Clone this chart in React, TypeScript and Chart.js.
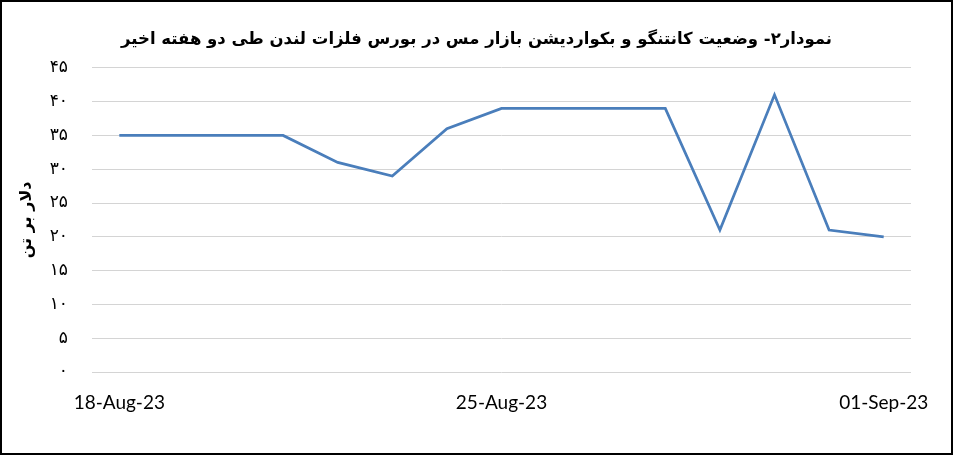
import React, { useEffect, useRef } from "react";
import { Chart, registerables } from "chart.js";

Chart.register(...registerables);

const categories: string[] = [
  "18-Aug-23", "19-Aug-23", "20-Aug-23", "21-Aug-23", "22-Aug-23",
  "23-Aug-23", "24-Aug-23", "25-Aug-23", "26-Aug-23", "27-Aug-23",
  "28-Aug-23", "29-Aug-23", "30-Aug-23", "31-Aug-23", "01-Sep-23",
];
// null = no trading day (weekend); line spans the gap
const spreadValues: (number | null)[] = [
  35, null, null, 35, 31, 29, 36, 39, null, null, 39, 21, 41, 21, 20,
];
const shownTickIndexes: number[] = [0, 7, 14];
const titleText = "نمودار۲- وضعیت کانتنگو و بکواردیشن بازار مس در بورس فلزات لندن طی دو هفته اخیر";
const yAxisTitle = "دلار بر تن";
const persianDigits = ["۰", "۱", "۲", "۳", "۴", "۵", "۶", "۷", "۸", "۹"];

const toPersian = (n: number) =>
  String(n).replace(/[0-9]/g, (d) => persianDigits[Number(d)]);

export default function App() {
  const ref = useRef<HTMLCanvasElement | null>(null);

  useEffect(() => {
    if (!ref.current) return;
    const chart = new Chart(ref.current, {
      type: "line",
      data: {
        labels: categories,
        datasets: [
          {
            data: spreadValues,
            borderColor: "#4a7ebb",
            borderWidth: 2.75,
            pointRadius: 0,
            pointHoverRadius: 0,
            spanGaps: true,
            tension: 0,
            fill: false,
          },
        ],
      },
      options: {
        animation: false,
        responsive: false,
        maintainAspectRatio: false,
        layout: { padding: 0 },
        plugins: {
          legend: { display: false },
          tooltip: { enabled: false },
          title: {
            display: true,
            text: titleText,
            color: "#000",
            font: { family: "'DejaVu Sans'", size: 16.5, weight: "bold", lineHeight: 1.2 },
            padding: { top: 28, bottom: 18 },
          },
        },
        scales: {
          x: {
            type: "category",
            offset: true,
            grid: { display: false, drawTicks: false },
            border: { display: false },
            ticks: {
              autoSkip: false,
              maxRotation: 0,
              minRotation: 0,
              padding: 19,
              color: "#000",
              font: { family: "Lato", size: 19 },
              callback: (_v: any, i: number) =>
                shownTickIndexes.includes(i) ? categories[i] : "",
            },
            afterFit: (s: any) => {
              s.height = 81;
            },
          },
          y: {
            min: 0,
            max: 45,
            grid: { color: "#d4d4d4", lineWidth: 1, drawTicks: false },
            border: { display: false },
            ticks: {
              stepSize: 5,
              padding: 24,
              color: "#000",
              font: { family: "'DejaVu Sans'", size: 17 },
              callback: (v: any) => toPersian(Number(v)),
            },
            title: {
              display: true,
              text: yAxisTitle,
              color: "#000",
              font: { family: "'DejaVu Sans'", size: 16, weight: "bold", lineHeight: 1.2 },
              padding: { top: 15, bottom: 0 },
            },
            afterFit: (s: any) => {
              s.width = 90;
            },
          },
          yRight: {
            position: "right",
            min: 0,
            max: 45,
            grid: { display: false, drawTicks: false },
            border: { display: false },
            ticks: { display: false },
            afterFit: (s: any) => {
              s.width = 40;
            },
          },
        },
      },
    });
    return () => chart.destroy();
  }, []);

  return (
    <div
      style={{
        position: "fixed",
        left: 0,
        top: 0,
        width: 953,
        height: 455,
        boxSizing: "border-box",
        border: "2px solid #000",
        background: "#fff",
      }}
    >
      <canvas ref={ref} width={949} height={451} style={{ display: "block" }} />
    </div>
  );
}
